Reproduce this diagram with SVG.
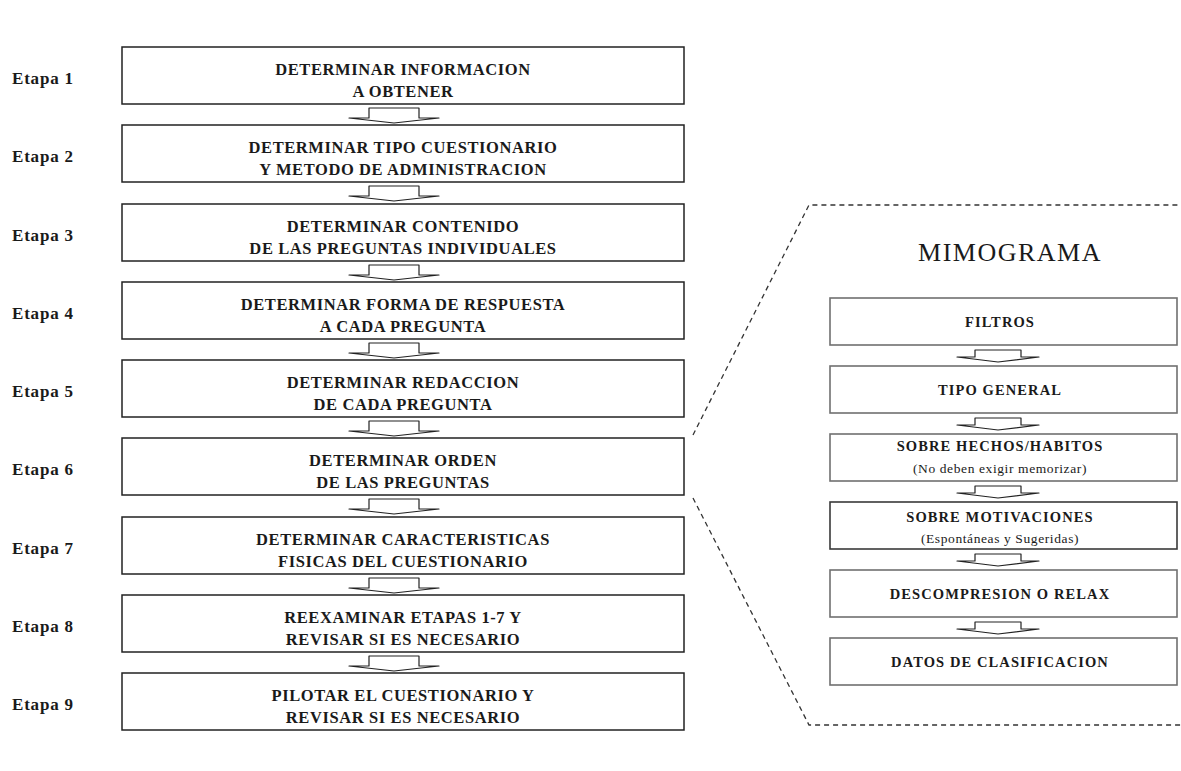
<svg xmlns="http://www.w3.org/2000/svg" xmlns:xlink="http://www.w3.org/1999/xlink" width="1181" height="771" viewBox="0 0 1181 771">
<style>
.bx{fill:#fff;stroke:#222;stroke-width:1.5}
.rbx{fill:#fff;stroke:#707070;stroke-width:1.6}
.t{font-family:"Liberation Serif","DejaVu Serif",serif;font-weight:bold;font-size:16.5px;letter-spacing:0.6px;fill:#1a1a1a;text-anchor:middle}
.et{font-family:"Liberation Serif","DejaVu Serif",serif;font-weight:bold;font-size:17px;letter-spacing:0.8px;fill:#1a1a1a}
.rt{font-family:"Liberation Serif","DejaVu Serif",serif;font-weight:bold;font-size:14.5px;letter-spacing:1.1px;fill:#1a1a1a;text-anchor:middle}
.st{font-family:"Liberation Serif","DejaVu Serif",serif;font-size:13.5px;letter-spacing:0.6px;fill:#1a1a1a;text-anchor:middle}
.ttl{font-family:"Liberation Serif","DejaVu Serif",serif;font-size:26px;letter-spacing:1.5px;fill:#1a1a1a;text-anchor:middle}
.arr{fill:#fff;stroke:#222;stroke-width:1.2;stroke-linejoin:round}
.dash{fill:none;stroke:#333;stroke-width:1.3;stroke-dasharray:5 4}
</style>
<defs>
<path id="arrL" d="M -25 10 V 0 H 25 V 10 L 45 10 L 0 15 L -45 10 Z"/>
<path id="arrR" d="M -23 7 V 0 H 23 V 7 L 41 7 L 0 12 L -41 7 Z"/>
</defs>
<rect width="1181" height="771" fill="#fff"/>

<g id="connectors">
<use xlink:href="#arrL" class="arr" x="394" y="108"/>
<use xlink:href="#arrL" class="arr" x="394" y="186"/>
<use xlink:href="#arrL" class="arr" x="394" y="265"/>
<use xlink:href="#arrL" class="arr" x="394" y="343"/>
<use xlink:href="#arrL" class="arr" x="394" y="421"/>
<use xlink:href="#arrL" class="arr" x="394" y="499"/>
<use xlink:href="#arrL" class="arr" x="394" y="578"/>
<use xlink:href="#arrL" class="arr" x="394" y="656"/>
<use xlink:href="#arrR" class="arr" x="998" y="350"/>
<use xlink:href="#arrR" class="arr" x="998" y="418"/>
<use xlink:href="#arrR" class="arr" x="998" y="486"/>
<use xlink:href="#arrR" class="arr" x="998" y="554"/>
<use xlink:href="#arrR" class="arr" x="998" y="622"/>
<path class="dash" d="M693 435 L809 205 H1181"/>
<path class="dash" d="M693 498 L809 725 H1181"/>
</g>

<g id="etapa1"><text class="et" x="12" y="84">Etapa 1</text><rect class="bx" x="122" y="47" width="562" height="57"/><text class="t" x="403" y="75">DETERMINAR INFORMACION</text><text class="t" x="403" y="97">A OBTENER</text></g>
<g id="etapa2"><text class="et" x="12" y="162">Etapa 2</text><rect class="bx" x="122" y="125" width="562" height="57"/><text class="t" x="403" y="153">DETERMINAR TIPO CUESTIONARIO</text><text class="t" x="403" y="175">Y METODO DE ADMINISTRACION</text></g>
<g id="etapa3"><text class="et" x="12" y="241">Etapa 3</text><rect class="bx" x="122" y="204" width="562" height="57"/><text class="t" x="403" y="232">DETERMINAR CONTENIDO</text><text class="t" x="403" y="254">DE LAS PREGUNTAS INDIVIDUALES</text></g>
<g id="etapa4"><text class="et" x="12" y="319">Etapa 4</text><rect class="bx" x="122" y="282" width="562" height="57"/><text class="t" x="403" y="310">DETERMINAR FORMA DE RESPUESTA</text><text class="t" x="403" y="332">A CADA PREGUNTA</text></g>
<g id="etapa5"><text class="et" x="12" y="397">Etapa 5</text><rect class="bx" x="122" y="360" width="562" height="57"/><text class="t" x="403" y="388">DETERMINAR REDACCION</text><text class="t" x="403" y="410">DE CADA PREGUNTA</text></g>
<g id="etapa6"><text class="et" x="12" y="475">Etapa 6</text><rect class="bx" x="122" y="438" width="562" height="57"/><text class="t" x="403" y="466">DETERMINAR ORDEN</text><text class="t" x="403" y="488">DE LAS PREGUNTAS</text></g>
<g id="etapa7"><text class="et" x="12" y="554">Etapa 7</text><rect class="bx" x="122" y="517" width="562" height="57"/><text class="t" x="403" y="545">DETERMINAR CARACTERISTICAS</text><text class="t" x="403" y="567">FISICAS DEL CUESTIONARIO</text></g>
<g id="etapa8"><text class="et" x="12" y="632">Etapa 8</text><rect class="bx" x="122" y="595" width="562" height="57"/><text class="t" x="403" y="623">REEXAMINAR ETAPAS 1-7 Y</text><text class="t" x="403" y="645">REVISAR SI ES NECESARIO</text></g>
<g id="etapa9"><text class="et" x="12" y="710">Etapa 9</text><rect class="bx" x="122" y="673" width="562" height="57"/><text class="t" x="403" y="701">PILOTAR EL CUESTIONARIO Y</text><text class="t" x="403" y="723">REVISAR SI ES NECESARIO</text></g>

<g id="mimograma"><text class="ttl" x="1010" y="261">MIMOGRAMA</text></g>
<g id="filtros"><rect class="rbx" x="830" y="298" width="347" height="47"/><text class="rt" x="1000" y="327">FILTROS</text></g>
<g id="tipo-general"><rect class="rbx" x="830" y="366" width="347" height="47"/><text class="rt" x="1000" y="395">TIPO GENERAL</text></g>
<g id="hechos"><rect class="rbx" x="830" y="434" width="347" height="47"/><text class="rt" x="1000" y="451">SOBRE HECHOS/HABITOS</text><text class="st" x="1000" y="473">(No deben exigir memorizar)</text></g>
<g id="motivaciones"><rect class="rbx" x="830" y="502" width="347" height="47" style="stroke:#3a3a3a"/><text class="rt" x="1000" y="522">SOBRE MOTIVACIONES</text><text class="st" x="1000" y="543">(Espontáneas y Sugeridas)</text></g>
<g id="descompresion"><rect class="rbx" x="830" y="570" width="347" height="47"/><text class="rt" x="1000" y="599">DESCOMPRESION O RELAX</text></g>
<g id="datos"><rect class="rbx" x="830" y="638" width="347" height="47"/><text class="rt" x="1000" y="667">DATOS DE CLASIFICACION</text></g>
</svg>
